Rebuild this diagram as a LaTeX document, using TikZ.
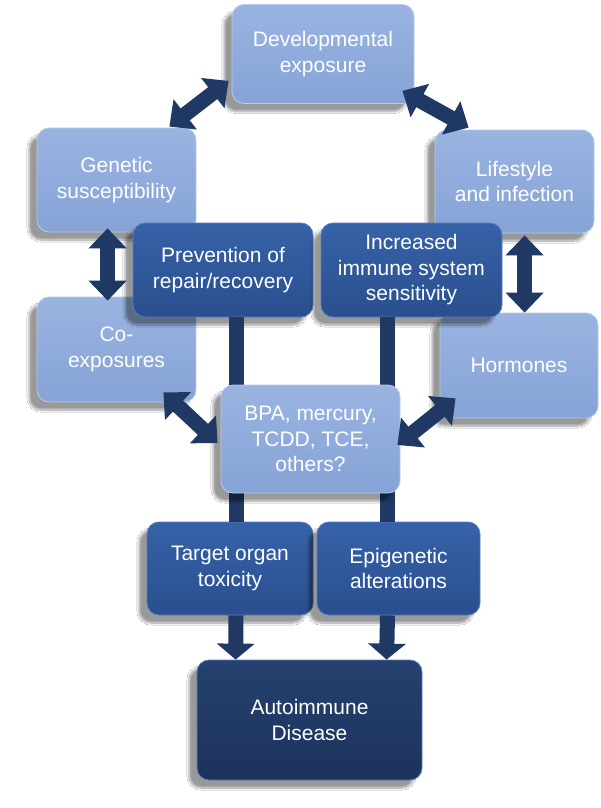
\documentclass[tikz,border=0pt]{standalone}
\usepackage{fontspec}
\setmainfont{Liberation Sans}
\usetikzlibrary{arrows.meta,calc,shadows.blur}
\definecolor{lightT}{HTML}{9AB4E1}
\definecolor{lightB}{HTML}{86A3D6}
\definecolor{lightE}{HTML}{B8CBEA}
\definecolor{darkT}{HTML}{3662A8}
\definecolor{darkB}{HTML}{2A4F8E}
\definecolor{darkE}{HTML}{5B7DBC}
\definecolor{deepT}{HTML}{26416F}
\definecolor{deepB}{HTML}{1C335C}
\definecolor{navy}{HTML}{1F3864}
\begin{document}
\begin{tikzpicture}[x=1pt,y=-1pt,
  box/.style={rounded corners=12pt, align=center, text=white, inner sep=0pt,
    font=\fontsize{21}{25.5}\selectfont,
    blur shadow={shadow xshift=-8pt, shadow yshift=-8pt, shadow opacity=40, shadow blur steps=12}},
  lightbox/.style={box, top color=lightT, bottom color=lightB, draw=lightE, line width=0.8pt},
  darkbox/.style={box, top color=darkT, bottom color=darkB, draw=darkE, line width=0.8pt},
  deepbox/.style={box, top color=deepT, bottom color=deepB, draw=darkE, line width=0.8pt},
  dbl/.style={draw=navy, line width=15pt, {Triangle[width=37pt,length=20pt]}-{Triangle[width=37pt,length=20pt]}},
  down/.style={draw=navy, line width=15pt, -{Triangle[width=37pt,length=16pt]}},
  bar/.style={draw=navy, line width=15pt}]
\useasboundingbox (0,0) rectangle (600,808);
\fill[white] (0,0) rectangle (600,808);

\node[lightbox, minimum width=182pt, minimum height=99pt] (dev) at (323,54) {Developmental\\exposure};
\node[lightbox, minimum width=159pt, minimum height=104pt] (gen) at (116.5,180) {Genetic\\susceptibility};
\node[lightbox, minimum width=159pt, minimum height=103pt] (life) at (514.5,181.5) {Lifestyle\\and infection};
\node[lightbox, minimum width=159pt, minimum height=105pt] (coexp) at (116.5,349.5) {Co-\\exposures};
\node[lightbox, minimum width=158pt, minimum height=105pt] (horm) at (519,365.5) {Hormones};
\node[darkbox, minimum width=180pt, minimum height=94pt] (prev) at (223,270) {Prevention of\\repair/recovery};
\node[darkbox, minimum width=181pt, minimum height=94pt] (inc) at (411.5,270) {Increased\\immune system\\sensitivity};
\node[darkbox, minimum width=166pt, minimum height=93pt] (target) at (230,568.5) {Target organ\\toxicity};
\node[darkbox, minimum width=163pt, minimum height=93pt] (epi) at (398.5,568.5) {Epigenetic\\alterations};

\draw[bar] ($(prev.south)+(13,0)$) -- ($(target.north)+(6,0)$);
\draw[bar] ($(inc.south)+(-24,0)$) -- ($(epi.north)+(-11,0)$);

\node[lightbox, minimum width=179pt, minimum height=108pt] (bpa) at (310.5,439) {BPA, mercury,\\TCDD, TCE,\\others?};
\node[deepbox, minimum width=225pt, minimum height=120pt] (auto) at (309.5,720) {Autoimmune\\Disease};

\draw[dbl] ($(gen.north east)+(-27,-1)$) -- ($(dev.south west)+(-3,-23)$);
\draw[dbl] ($(dev.south east)+(-12,-13)$) -- ($(life.north west)+(34,-2)$);
\draw[dbl] ($(gen.south west)+(71,-4)$) -- ($(coexp.north west)+(71,4)$);
\draw[dbl] ($(life.south west)+(90,2)$) -- ($(horm.north west)+(85,0)$);
\draw[dbl] ($(coexp.south east)+(-33,-10)$) -- ($(bpa.west)+(-3,4)$);
\draw[dbl] ($(horm.south west)+(16,-20)$) -- ($(bpa.east)+(-3,6)$);
\draw[down] ($(target.south)+(6,0)$) -- ($(auto.north west)+(39,0)$);
\draw[down] ($(epi.south)+(-11,0)$) -- ($(auto.north west)+(190,0)$);
\end{tikzpicture}
\end{document}
